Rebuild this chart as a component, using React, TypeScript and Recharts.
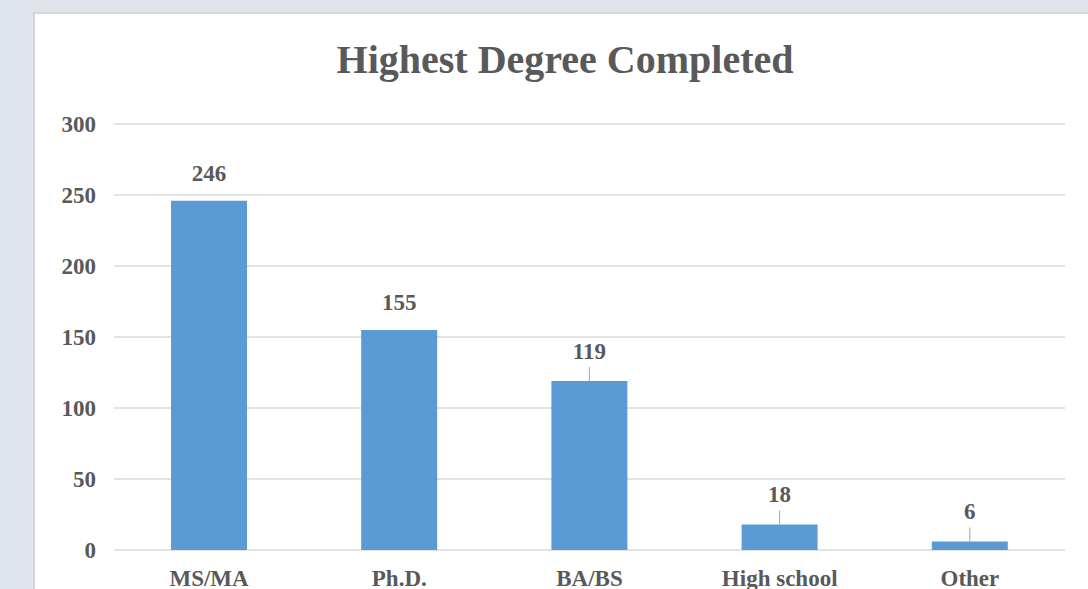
import React from "react";
import { Bar, BarChart, CartesianGrid, LabelList, XAxis, YAxis } from "recharts";

const degrees = ["MS/MA", "Ph.D.", "BA/BS", "High school", "Other"];
const counts = [246, 155, 119, 18, 6];
const yTicks = [0, 50, 100, 150, 200, 250, 300];

const data = degrees.map((degree, i) => ({ degree, count: counts[i] }));

const textColor = "#595959";
const fontFamily = "'Liberation Serif', 'Times New Roman', serif";

const ValueLabel = (props: any) => {
  const { x, y, width, value, index } = props;
  const cx = x + width / 2;
  // the short bars get a small leader line like excel does
  const leader = index >= 2;
  return (
    <g>
      {leader && (
        <line x1={cx} x2={cx} y1={y - 14} y2={y} stroke="#a6a6a6" strokeWidth={1} />
      )}
      <text
        x={cx}
        y={leader ? y - 22 : y - 20}
        textAnchor="middle"
        fill={textColor}
        fontFamily={fontFamily}
        fontWeight="bold"
        fontSize={23}
      >
        {value}
      </text>
    </g>
  );
};

const App = () => {
  return (
    <div
      style={{
        position: "fixed",
        left: 0,
        top: 0,
        width: 1088,
        height: 589,
        background: "#dfe3eb",
        overflow: "hidden",
      }}
    >
      <div
        style={{
          position: "absolute",
          left: 33,
          top: 12,
          width: 1080,
          height: 600,
          background: "#fff",
          borderLeft: "2px solid #d3d6dc",
          borderTop: "2px solid #d3d6dc",
          boxSizing: "border-box",
        }}
      />
      <div
        style={{
          position: "absolute",
          left: 265,
          width: 600,
          top: 35,
          textAlign: "center",
          fontFamily,
          fontWeight: "bold",
          fontSize: 40,
          color: textColor,
          lineHeight: "50px",
        }}
      >
        Highest Degree Completed
      </div>
      <div style={{ position: "absolute", left: 0, top: 0 }}>
        <BarChart
          width={1088}
          height={589}
          data={data}
          margin={{ top: 124, right: 23, bottom: 0, left: 0 }}
        >
          <CartesianGrid vertical={false} stroke="#d9d9d9" strokeWidth={1.5} />
          <XAxis
            dataKey="degree"
            axisLine={false}
            tickLine={false}
            tickSize={0}
            tickMargin={20}
            height={39}
            interval={0}
            tick={{ fill: textColor, fontFamily, fontWeight: "bold", fontSize: 23 }}
          />
          <YAxis
            domain={[0, 300]}
            ticks={yTicks}
            axisLine={false}
            tickLine={false}
            tickSize={0}
            tickMargin={18}
            width={114}
            tick={{ fill: textColor, fontFamily, fontWeight: "bold", fontSize: 23 }}
          />
          <Bar dataKey="count" fill="#5b9bd5" barSize={76} isAnimationActive={false}>
            <LabelList dataKey="count" content={<ValueLabel />} />
          </Bar>
        </BarChart>
      </div>
    </div>
  );
};

export default App;
